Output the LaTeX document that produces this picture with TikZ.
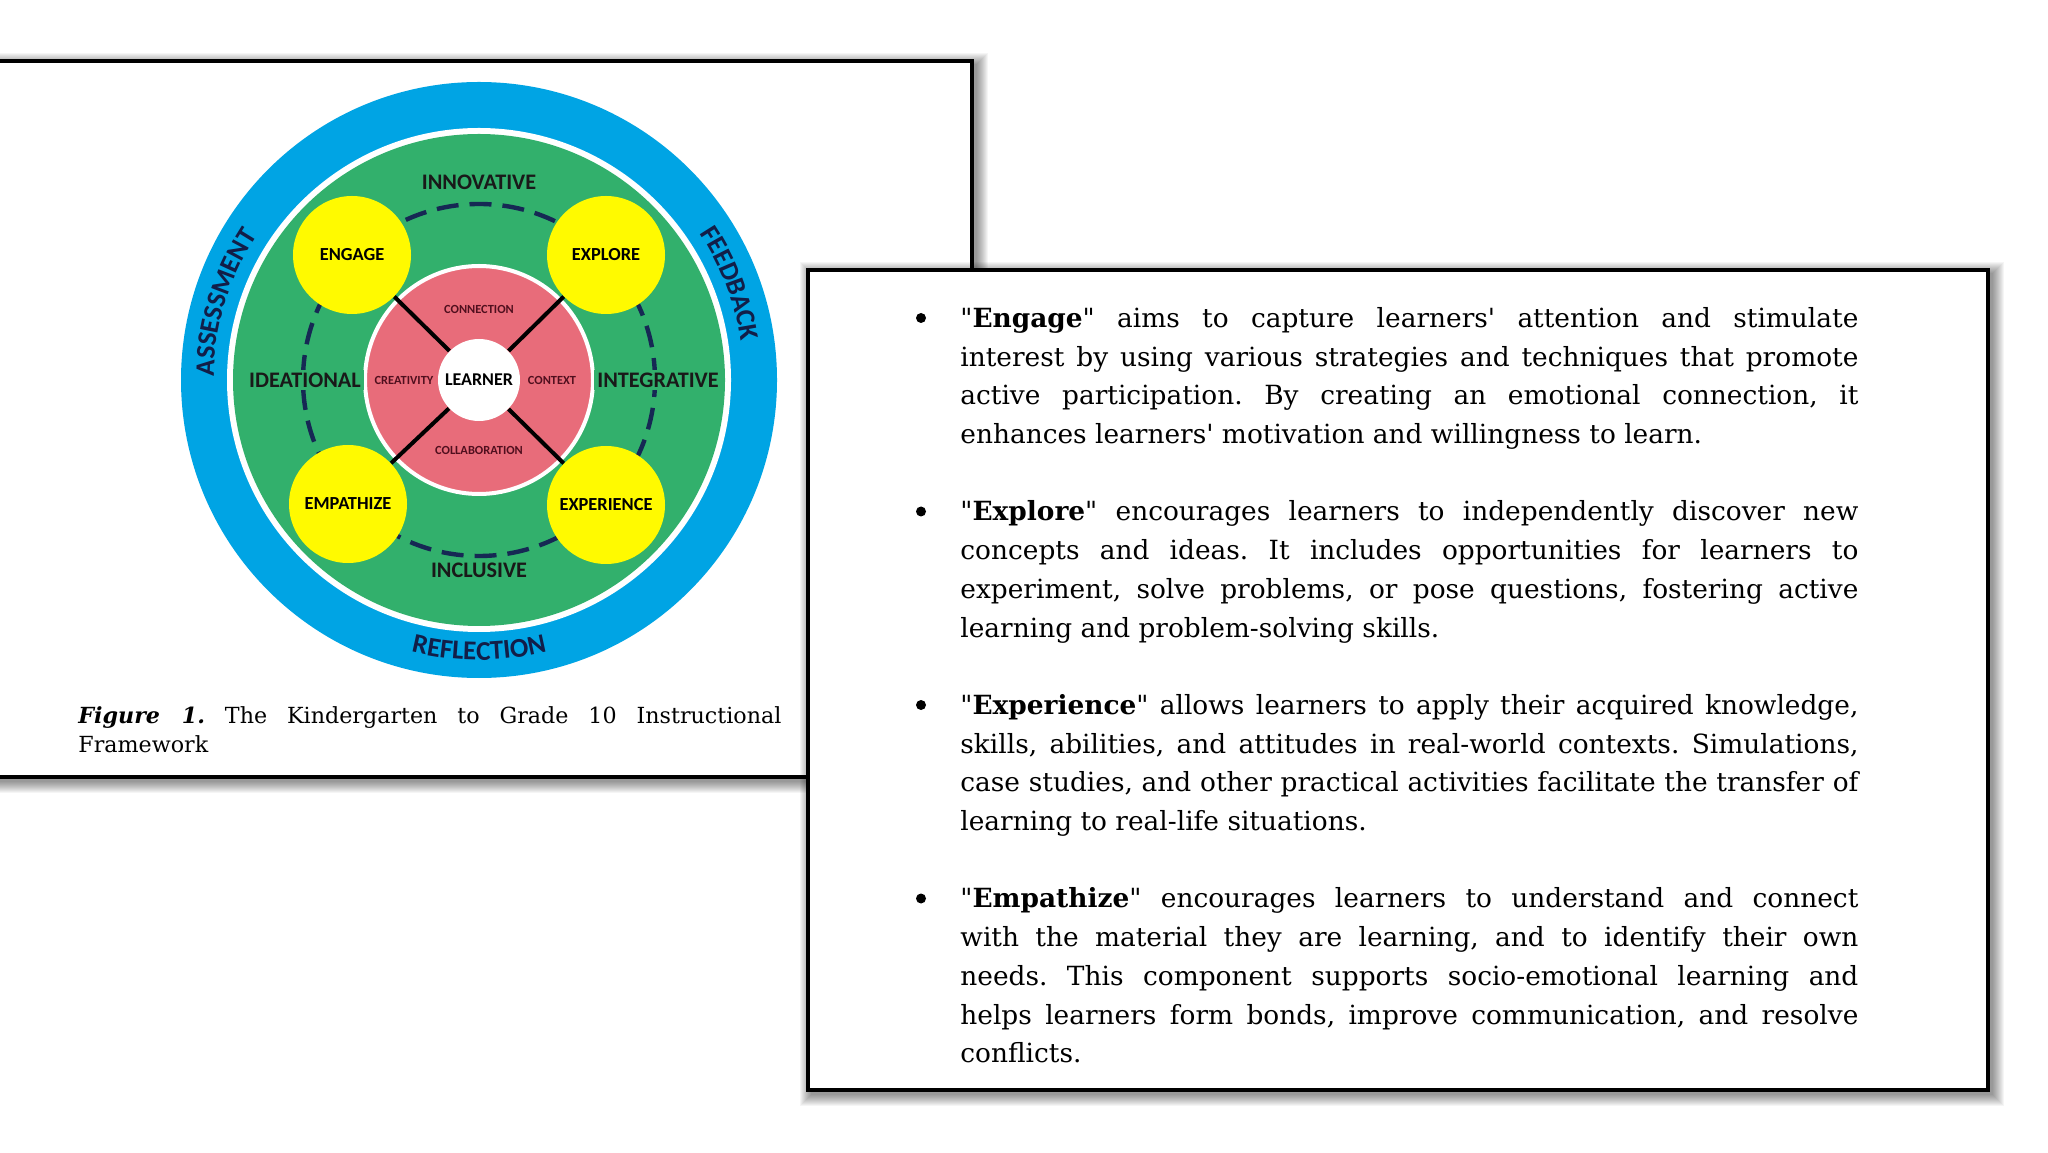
\documentclass[tikz,border=0pt]{standalone}
\usepackage{fontspec}
\newfontfamily\bodyfont{DejaVu Serif}
\newfontfamily\labelfont{Carlito}
\usetikzlibrary{decorations.text,positioning}
\definecolor{ringblue}{RGB}{0,164,228}
\definecolor{leafgreen}{RGB}{50,176,108}
\definecolor{corepink}{RGB}{232,108,122}
\definecolor{sunyellow}{RGB}{255,250,0}
\definecolor{dashnavy}{RGB}{22,40,84}
\definecolor{ringtext}{RGB}{18,30,72}
\definecolor{facetred}{RGB}{80,15,30}

\begin{document}
\begin{tikzpicture}[x=0.5pt,y=0.5pt,
  phase/.style={circle,fill=sunyellow,minimum size=59pt,inner sep=0pt,
    font=\labelfont\bfseries\fontsize{9.2}{10}\selectfont},
  core/.style={circle,fill=corepink,draw=white,line width=2pt,minimum size=114pt,inner sep=0pt},
  hubdisc/.style={circle,fill=white,minimum size=41pt,inner sep=0pt,
    font=\labelfont\bfseries\fontsize{9}{10}\selectfont},
  spoke/.style={line width=2pt,black},
  zone/.style={fill=leafgreen,inner sep=1.5pt,text=black!90,
    font=\labelfont\bfseries\fontsize{11.1}{12}\selectfont},
  facet/.style={text=facetred,font=\labelfont\bfseries\fontsize{6.2}{7}\selectfont},
  ringlabel/.style={decorate,decoration={text along path,text align=center,text color=ringtext,
    text={|\labelfont\bfseries\fontsize{13.6}{14}\selectfont|#1}}},
  panel/.style={fill=white,draw=black,line width=2.2pt},
  para/.style={anchor=north west,inner sep=0pt,text width=449pt,align=justify,
    font=\bodyfont\fontsize{13.2}{19.35}\selectfont}]
  \useasboundingbox (0,0) rectangle (2048,1152);
  \fill[white] (0,0) rectangle (2048,1152);

  % left page with the figure
  \foreach \k in {1,...,12}
    \fill[black,opacity=.04] (-26-\k,371-\k) rectangle (976+\k,1087+\k);
  \draw[panel] (-30,375) rectangle (972,1091);

  \coordinate (hub) at (479,772);
  \fill[ringblue] (hub) circle (298);
  \fill[white] (hub) circle (252);
  \fill[leafgreen] (hub) circle (246);
  \draw[dashnavy,line width=2.2pt,dash pattern=on 11pt off 5.5pt] (hub) circle (176);
  \node[core] (core) at (hub) {};
  \node[hubdisc] (learner) at (hub) {LEARNER};
  \node[phase] (engage) at (352,897) {ENGAGE};
  \node[phase] (explore) at (606,897) {EXPLORE};
  \node[phase] (empathize) at (348,648) {EMPATHIZE};
  \node[phase] (experience) at (606,647) {EXPERIENCE};
  \foreach \p in {engage,explore,empathize,experience}
    \draw[spoke] (learner) -- (\p);
  \node[facet] (connection) at (479,843) {CONNECTION};
  \node[facet] (collaboration) at (479,702) {COLLABORATION};
  \node[facet] (creativity) at (404,772) {CREATIVITY};
  \node[facet] (context) at (552,772) {CONTEXT};
  \node[zone] (innovative) at (479,970) {INNOVATIVE};
  \node[zone] (inclusive) at (479,582) {INCLUSIVE};
  \node[zone] (ideational) at (305,772) {IDEATIONAL};
  \node[zone] (integrative) at (658,772) {INTEGRATIVE};
  \path[ringlabel=ASSESSMENT] (hub) ++(203:265) arc[start angle=203,end angle=123,radius=265];
  \path[ringlabel=FEEDBACK] (hub) ++(61:265) arc[start angle=61,end angle=-19,radius=265];
  \path[ringlabel=REFLECTION] (hub) ++(230:280) arc[start angle=230,end angle=310,radius=280];

  \node[anchor=north west,inner sep=0pt,text width=351.5pt,align=justify,
    font=\bodyfont\fontsize{11.1}{14.5}\selectfont\frenchspacing] (caption) at (78,446)
    {\textbf{\textit{Figure 1.}} The Kindergarten to Grade 10 Instructional\linebreak Framework};

  % right page with the four components
  \foreach \k in {1,...,12}
    \fill[black,opacity=.04] (812-\k,58-\k) rectangle (1992+\k,878+\k);
  \draw[panel] (808,62) rectangle (1988,882);

  \tikzset{every node/.append style={execute at begin node=\frenchspacing}}
  \node[para] (pEngage) at (960,845)
    {"\textbf{Engage}" aims to capture learners' attention and stimulate\linebreak
     interest by using various strategies and techniques that promote\linebreak
     active participation. By creating an emotional connection, it\linebreak
     enhances learners' motivation and willingness to learn.};
  \node[para] (pExplore) at (960,651.5)
    {"\textbf{Explore}" encourages learners to independently discover new\linebreak
     concepts and ideas. It includes opportunities for learners to\linebreak
     experiment, solve problems, or pose questions, fostering active\linebreak
     learning and problem-solving skills.};
  \node[para] (pExperience) at (960,458)
    {"\textbf{Experience}" allows learners to apply their acquired knowledge,\linebreak
     skills, abilities, and attitudes in real-world contexts. Simulations,\linebreak
     case studies, and other practical activities facilitate the transfer of\linebreak
     learning to real-life situations.};
  \node[para] (pEmpathize) at (960,264.5)
    {"\textbf{Empathize}" encourages learners to understand and connect\linebreak
     with the material they are learning, and to identify their own\linebreak
     needs. This component supports socio-emotional learning and\linebreak
     helps learners form bonds, improve communication, and resolve\linebreak
     conflicts.};
  \foreach \p in {pEngage,pExplore,pExperience,pEmpathize}
    \fill ([shift={(-39,-11)}]\p.north west) circle (5);
\end{tikzpicture}
\end{document}
